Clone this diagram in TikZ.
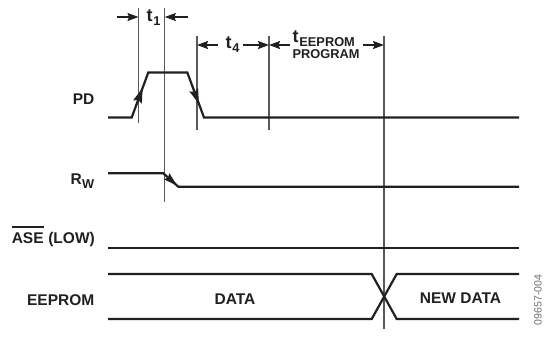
\documentclass[tikz,border=0pt]{standalone}
\usepackage{fontspec}
\setmainfont{Liberation Sans}
\usetikzlibrary{arrows.meta,calc}
\definecolor{ink}{HTML}{231F20}
\definecolor{guide}{HTML}{58595B}
\definecolor{codegray}{HTML}{6D6E71}
\begin{document}
\begin{tikzpicture}[x=1pt,y=-1pt,
  sig/.style={line width=2.2pt, draw=ink, line join=miter},
  guideline/.style={line width=1.2pt, draw=guide},
  dimarrow/.style={line width=1.3pt, draw=ink, -{Stealth[length=11pt,width=8pt,inset=1.5pt]}},
  edgearrow/.style={line width=1.5pt, draw=ink, -{Stealth[length=15pt,width=9pt,inset=2pt]}},
  lbl/.style={inner sep=0pt, text=ink, font=\fontsize{15.5}{18}\selectfont\bfseries},
  tlbl/.style={inner sep=0pt, text=ink, font=\fontsize{18}{20}\selectfont\bfseries},
  sublbl/.style={inner sep=0pt, text=ink, font=\fontsize{12.8}{15}\selectfont\bfseries},
  codelbl/.style={inner sep=0pt, text=codegray, font=\fontsize{10.5}{12}\selectfont}
]
\useasboundingbox[fill=white] (0,0) rectangle (545,337);

% ---------- waveform points ----------
% PD
\coordinate (pd0) at (108,117.5);
\coordinate (pd1) at (131.7,117.5);
\coordinate (pd2) at (148.3,72.5);
\coordinate (pd3) at (187.3,72.5);
\coordinate (pd4) at (204,117.5);
\coordinate (pd5) at (519,117.5);
% RW
\coordinate (rw0) at (108,173.3);
\coordinate (rw1) at (163.3,173.3);
\coordinate (rw2) at (178.3,186.7);
\coordinate (rw3) at (519,186.7);
% ASE
\coordinate (as0) at (108,248);
\coordinate (as1) at (519,248);
% EEPROM
\coordinate (ee0t) at (108,274);
\coordinate (ee1t) at (371.7,274);
\coordinate (ee2b) at (396.7,319);
\coordinate (ee3b) at (519,319);
\coordinate (ee0b) at (108,319);
\coordinate (ee1b) at (371.7,319);
\coordinate (ee2t) at (396.7,274);
\coordinate (ee3t) at (519,274);

% ---------- guide lines ----------
\coordinate (g1a) at (138.5,8);   \coordinate (g1b) at (138.5,123);
\coordinate (g2a) at (164.8,8);   \coordinate (g2b) at (164.8,202);
\coordinate (g3a) at (197,36);    \coordinate (g3b) at (197,130);
\coordinate (g4a) at (269,36);    \coordinate (g4b) at (269,130);
\coordinate (g5a) at (384,36);    \coordinate (g5b) at (384,329);
\draw[guideline] (g1a) -- (g1b);
\draw[guideline] (g2a) -- (g2b);
\draw[guideline] (g3a) -- (g3b);
\draw[guideline] (g4a) -- (g4b);
\draw[guideline] (g5a) -- (g5b);

% ---------- signals ----------
\draw[sig] (pd0) -- (pd1) -- (pd2) -- (pd3) -- (pd4) -- (pd5);
\draw[sig] (rw0) -- (rw1) -- (rw2) -- (rw3);
\draw[sig] (as0) -- (as1);
\draw[sig] (ee0t) -- (ee1t) -- (ee2b) -- (ee3b);
\draw[sig] (ee0b) -- (ee1b) -- (ee2t) -- (ee3t);

% edge arrows
\draw[edgearrow] ($(pd1)!0.25!(pd2)$) -- ($(pd1)!0.66!(pd2)$);
\draw[edgearrow] ($(pd3)!0.3!(pd4)$) -- ($(pd3)!0.7!(pd4)$);
\draw[line width=1.2pt, draw=ink, -{Stealth[length=14pt,width=8pt,inset=2pt]}] (rw1) -- ($(rw1)!0.92!(rw2)$);

% ---------- dimension arrows ----------
\coordinate (t1l) at (116.7,17);  \coordinate (t1lt) at (138.5,17);
\coordinate (t1r) at (188,17);    \coordinate (t1rt) at (164.8,17);
\draw[dimarrow] (t1l) -- (t1lt);
\draw[dimarrow] (t1r) -- (t1rt);
\coordinate (t4l) at (218,45);    \coordinate (t4lt) at (197,45);
\coordinate (t4r) at (243,45);    \coordinate (t4rt) at (269,45);
\draw[dimarrow] (t4l) -- (t4lt);
\draw[dimarrow] (t4r) -- (t4rt);
\coordinate (tel) at (290,45);    \coordinate (telt) at (269,45);
\coordinate (ter) at (363,45);    \coordinate (tert) at (384,45);
\draw[dimarrow] (tel) -- (telt);
\draw[dimarrow] (ter) -- (tert);

% ---------- timing labels ----------
\node[tlbl, anchor=base west] (t1t) at (146.5,22) {t};
\node[sublbl, anchor=base west] (t1s) at ($(t1t.base east)+(0.3,3.5)$) {1};
\node[tlbl, anchor=base west] (t4t) at (225.5,48.5) {t};
\node[sublbl, anchor=base west] (t4s) at ($(t4t.base east)+(0.3,4)$) {4};
\node[tlbl, anchor=base west] (tet) at (292.5,43) {t};
\node[sublbl, anchor=base west] (tes) at ($(tet.base east)+(0.3,4)$) {EEPROM};
\node[sublbl, anchor=base] (tep) at (326,59) {PROGRAM};

% ---------- signal labels ----------
\node[lbl, anchor=base east] (pdl) at (94.5,104) {PD};
\node[sublbl, anchor=base east] (rwW) at (94.5,188) {W};
\node[lbl, anchor=base east] (rwR) at ($(rwW.base west)+(0,-4)$) {R};
\node[lbl, anchor=base east] (aselow) at (95,243) {(LOW)};
\node[lbl, anchor=base east] (ase) at ($(aselow.base west)+(-4.3,0)$) {ASE};
\draw[line width=1.3pt, draw=ink] ($(ase.north west)+(0,-5)$) -- ($(ase.north east)+(0,-5)$);
\node[lbl, anchor=base east] (eel) at (94.5,305) {EEPROM};
\node[lbl, anchor=base] (data) at (235,304) {DATA};
\node[lbl, anchor=base] (newdata) at (460.5,303) {NEW DATA};
\node[codelbl, rotate=90, anchor=center] (code) at (538,300) {09657-004};
\end{tikzpicture}
\end{document}
